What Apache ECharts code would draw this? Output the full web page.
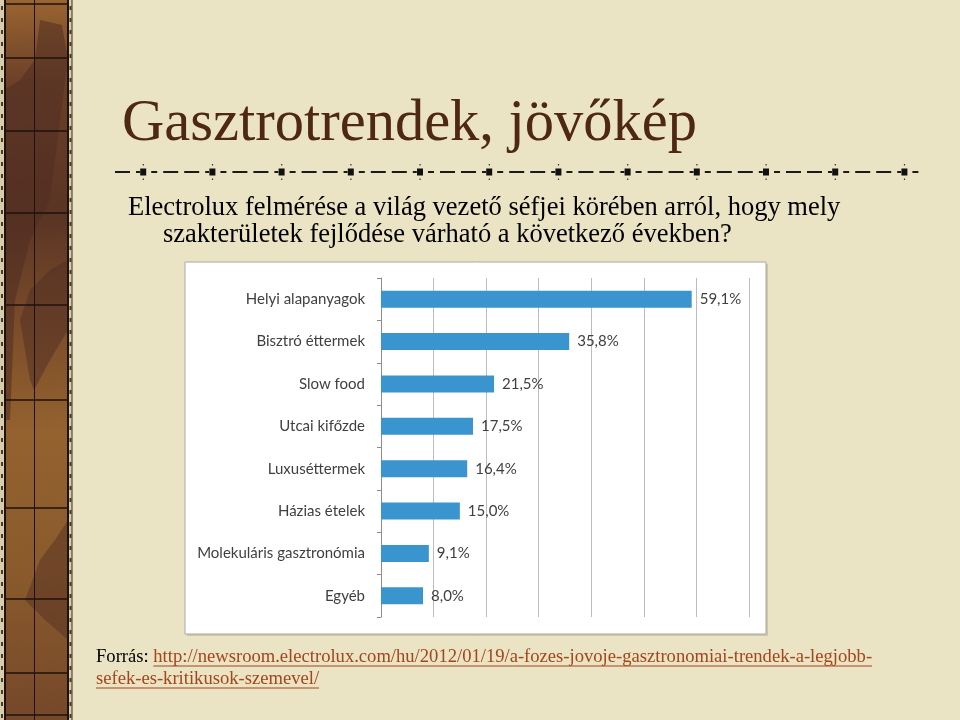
<!DOCTYPE html>
<html>
<head>
<meta charset="utf-8">
<script src="https://cdn.jsdelivr.net/npm/echarts@6/dist/echarts.min.js"></script>
<style>
html,body{margin:0;padding:0;background:#EAE3C4;}
#chart{width:960px;height:720px;}
</style>
</head>
<body>
<div id="chart"></div>
<script>
const categories = ['Helyi alapanyagok','Bisztró éttermek','Slow food','Utcai kifőzde','Luxuséttermek','Házias ételek','Molekuláris gasztronómia','Egyéb'];
const values = [59.1, 35.8, 21.5, 17.5, 16.4, 15.0, 9.1, 8.0];
const titleText = 'Gasztrotrendek, jövőkép';
const subtitleLines = ['Electrolux felmérése a világ vezető séfjei körében arról, hogy mely','szakterületek fejlődése várható a következő években?'];
const sourceLabel = 'Forrás: ';
const sourceLink1 = 'http://newsroom.electrolux.com/hu/2012/01/19/a-fozes-jovoje-gasztronomiai-trendek-a-legjobb-';
const sourceLink2 = 'sefek-es-kritikusok-szemevel/';

const serif = '"Liberation Serif", "Times New Roman", serif';
const cv = document.createElement('canvas').getContext('2d');
function tw(t, size){ cv.font = size + 'px "Liberation Serif"'; return cv.measureText(t).width; }

const g = [];
// left decorative strip
g.push({type:'rect', z:-20, shape:{x:0,y:0,width:72,height:720}, style:{fill:'#D8CDAE'}});
g.push({type:'rect', z:-19, shape:{x:5,y:0,width:63,height:720}, style:{fill:new echarts.graphic.LinearGradient(0,0,0.3,1,[
  {offset:0,color:'#9A6531'},{offset:0.12,color:'#6A3F28'},{offset:0.3,color:'#5A3424'},{offset:0.45,color:'#7A4C2A'},
  {offset:0.6,color:'#94622F'},{offset:0.8,color:'#8A5A2C'},{offset:1,color:'#75482A'}])}});
g.push({type:'polygon', z:-18, shape:{points:[[40,20],[62,25],[68,60],[60,120],[50,200],[30,240],[15,300],[10,420],[5,420],[5,90],[20,80],[35,60]]}, style:{fill:'rgba(80,45,35,0.55)'}});
g.push({type:'polygon', z:-18, shape:{points:[[68,330],[50,360],[34,390],[30,380],[20,320],[30,290],[50,270],[68,260]]}, style:{fill:'rgba(80,45,35,0.5)'}});
g.push({type:'polygon', z:-18, shape:{points:[[68,520],[55,540],[40,560],[25,600],[45,620],[68,640]]}, style:{fill:'rgba(80,45,35,0.45)'}});
[5, 34.5, 68].forEach(x => g.push({type:'line', z:-17, shape:{x1:x,y1:0,x2:x,y2:720}, style:{stroke:'#1E120C',lineWidth: x===34.5?1:2}}));
g.push({type:'line', z:-17, shape:{x1:72,y1:0,x2:72,y2:720}, style:{stroke:'#3A2A1A',lineWidth:1}});
[4, 58, 131, 213, 305, 400, 508, 599, 673, 715].forEach(y => g.push({type:'line', z:-17, shape:{x1:5,y1:y,x2:68,y2:y}, style:{stroke:'#1E120C',lineWidth:1.5}}));
for (let y = 6; y < 720; y += 12) {
  g.push({type:'rect', z:-17, shape:{x:1,y:y,width:2,height:4}, style:{fill:'#4A3A2A'}});
  g.push({type:'rect', z:-17, shape:{x:69.5,y:y,width:2,height:4}, style:{fill:'#4A3A2A'}});
}

// title (y = top of text box)
g.push({type:'text', z:10, style:{x:122, y:95, text:titleText, font:'58.5px ' + serif, fill:'#4E2810'}});
// dashed decorative line
const lineY = 172;
for (let s = 74; s < 930; s += 69.2) {
  const segs = [[s+8,s+14],[s+20,s+35],[s+41,s+56],[s+62,s+66]];
  segs.forEach(([a,b]) => { if (a >= 108 && b <= 927) g.push({type:'line', z:10, shape:{x1:a,y1:lineY,x2:b,y2:lineY}, style:{stroke:'#1A1A1A',lineWidth:2}}); });
  const sq = s + 69.2;
  if (sq > 110 && sq < 920) {
    g.push({type:'rect', z:10, shape:{x:sq-3,y:lineY-3.5,width:6,height:7}, style:{fill:'#111'}});
    g.push({type:'rect', z:10, shape:{x:sq-0.5,y:lineY-8,width:1.2,height:1.5}, style:{fill:'#333'}});
    g.push({type:'rect', z:10, shape:{x:sq-0.5,y:lineY+6.5,width:1.2,height:1.5}, style:{fill:'#333'}});
  }
}
// subtitle
g.push({type:'text', z:10, style:{x:128, y:195, text:subtitleLines[0], font:'26.5px ' + serif, fill:'#000'}});
g.push({type:'text', z:10, style:{x:163, y:222, text:subtitleLines[1], font:'26.5px ' + serif, fill:'#000'}});
// white chart box
g.push({type:'rect', z:-5, shape:{x:187,y:264,width:581,height:372}, style:{fill:'rgba(120,110,80,0.25)'}});
g.push({type:'rect', z:-4, shape:{x:185,y:262,width:581,height:372}, style:{fill:'#FFFFFF', stroke:'#A8A8A8', lineWidth:1}});
// source
const fs = 18.6;
const lx = 96 + tw(sourceLabel, fs);
const y1 = 648, y2 = 670;
g.push({type:'text', z:10, style:{x:96, y:y1, text:sourceLabel, font:fs+'px ' + serif, fill:'#000'}});
g.push({type:'text', z:10, style:{x:lx, y:y1, text:sourceLink1, font:fs+'px ' + serif, fill:'#A3461B'}});
g.push({type:'line', z:10, shape:{x1:lx,y1:y1+18,x2:lx+tw(sourceLink1,fs),y2:y1+18}, style:{stroke:'#A3461B',lineWidth:1}});
g.push({type:'text', z:10, style:{x:96, y:y2, text:sourceLink2, font:fs+'px ' + serif, fill:'#A3461B'}});
g.push({type:'line', z:10, shape:{x1:96,y1:y2+18,x2:96+tw(sourceLink2,fs),y2:y2+18}, style:{stroke:'#A3461B',lineWidth:1}});

const chart = echarts.init(document.getElementById('chart'), null, {renderer:'canvas'});
chart.setOption({
  backgroundColor:'#EAE3C4',
  animation:false,
  graphic:{elements:g},
  grid:{left:381, top:278, width:368, height:339, containLabel:false},
  xAxis:{type:'value', min:0, max:70, interval:10,
    axisLabel:{show:false}, axisLine:{show:false}, axisTick:{show:false},
    splitLine:{show:true, lineStyle:{color:'#BDBDBD', width:1}}},
  yAxis:{type:'category', inverse:true, data:categories,
    axisLine:{show:true, lineStyle:{color:'#8C8C8C'}},
    axisTick:{show:true, length:4, lineStyle:{color:'#8C8C8C'}},
    axisLabel:{margin:16, color:'#3F3F3F', fontSize:15, fontFamily:'Lato'}},
  series:[{type:'bar', data:values, barWidth:17,
    itemStyle:{color:'#3A95CF'},
    label:{show:true, position:'right', distance:8, color:'#3F3F3F', fontSize:15, fontFamily:'Lato',
      formatter:p => p.value.toFixed(1).replace('.', ',') + '%'}}]
});
</script>
</body>
</html>
